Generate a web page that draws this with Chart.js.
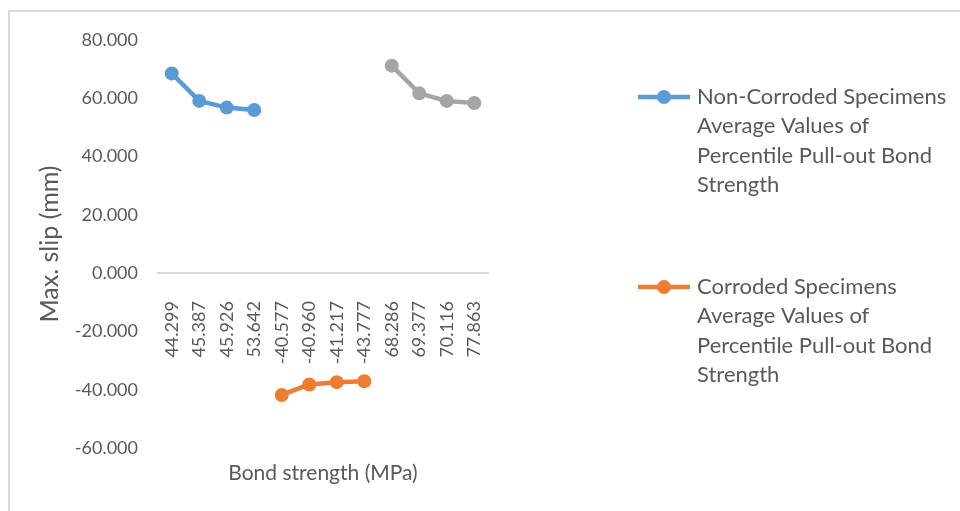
<!DOCTYPE html>
<html>
<head>
<meta charset="utf-8">
<script src="https://cdn.jsdelivr.net/npm/chart.js@4.4.1/dist/chart.umd.min.js"></script>
<style>
  html, body { margin: 0; padding: 0; background: #fff; }
  #wrap { width: 960px; height: 511px; position: relative; }
</style>
</head>
<body>
<div id="wrap"><canvas id="slipChart" width="960" height="511"></canvas></div>
<script>
// bond strength categories (MPa) along the x axis
const categories = ['44.299', '45.387', '45.926', '53.642', '-40.577', '-40.960', '-41.217', '-43.777', '68.286', '69.377', '70.116', '77.863'];

// max. slip (mm) per group
const nonCorroded = [68.5, 59.1, 56.8, 56.0, null, null, null, null, null, null, null, null];
const corroded = [null, null, null, null, -41.8, -38.2, -37.4, -37.1, null, null, null, null];
const thirdGroup = [null, null, null, null, null, null, null, null, 71.2, 61.7, 59.1, 58.4];

const yTicks = [-60, -40, -20, 0, 20, 40, 60, 80];

const textColor = '#595959';
const fontFamily = 'Lato, "Open Sans", sans-serif';

Chart.defaults.font.family = fontFamily;
Chart.defaults.color = textColor;

function series(label, data, color, inLegend) {
  return {
    label,
    data,
    borderColor: color,
    backgroundColor: color,
    borderWidth: 4.5,
    pointRadius: 7,
    pointHoverRadius: 7,
    pointBorderWidth: 0,
    spanGaps: false,
    inLegend
  };
}

// outer frame of the chart object
const framePlugin = {
  id: 'frame',
  beforeDraw(chart) {
    const c = chart.ctx;
    c.save();
    c.strokeStyle = '#d9d9d9';
    c.lineWidth = 2;
    c.strokeRect(9, 11, chart.width + 10, chart.height + 10);
    c.restore();
  }
};

// legend on the right with wrapped labels
const wrapLegend = {
  id: 'wrapLegend',
  afterDraw(chart) {
    const c = chart.ctx;
    const x0 = 638, lineLen = 52, textX = 697, maxW = 258, lh = 29.4;
    const tops = [97, 287];
    c.save();
    c.font = '22px ' + fontFamily;
    c.textBaseline = 'middle';
    let i = 0;
    chart.data.datasets.forEach(ds => {
      if (!ds.inLegend) return;
      const y = tops[i++];
      c.strokeStyle = ds.borderColor;
      c.lineWidth = 4.5;
      c.beginPath();
      c.moveTo(x0, y);
      c.lineTo(x0 + lineLen, y);
      c.stroke();
      c.fillStyle = ds.backgroundColor;
      c.beginPath();
      c.arc(x0 + lineLen / 2, y, 7, 0, Math.PI * 2);
      c.fill();
      // greedy word wrap
      const lines = [];
      let cur = '';
      ds.label.split(' ').forEach(w => {
        const test = cur ? cur + ' ' + w : w;
        if (c.measureText(test).width > maxW && cur) {
          lines.push(cur);
          cur = w;
        } else {
          cur = test;
        }
      });
      if (cur) lines.push(cur);
      c.fillStyle = textColor;
      lines.forEach((ln, k) => c.fillText(ln, textX, y + k * lh));
    });
    c.restore();
  }
};

const ctx = document.getElementById('slipChart').getContext('2d');

new Chart(ctx, {
  type: 'line',
  data: {
    labels: categories,
    datasets: [
      series('Non-Corroded Specimens Average Values of Percentile Pull-out Bond Strength', nonCorroded, '#5B9BD5', true),
      series('Corroded Specimens Average Values of Percentile Pull-out Bond Strength', corroded, '#ED7D31', true),
      series('Series3', thirdGroup, '#A5A5A5', false)
    ]
  },
  options: {
    responsive: false,
    animation: false,
    layout: { padding: { left: 10, top: 40, right: 472, bottom: 10 } },
    plugins: {
      legend: { display: false },
      tooltip: { enabled: true }
    },
    scales: {
      x: {
        position: { y: 0 },
        offset: true,
        grid: { display: false, drawTicks: false },
        border: { display: true, color: '#d9d9d9', width: 2 },
        ticks: {
          autoSkip: false,
          minRotation: 90,
          maxRotation: 90,
          padding: 28,
          font: { size: 18 },
          color: textColor
        }
      },
      xTitle: {
        type: 'category',
        labels: categories,
        position: 'bottom',
        grid: { display: false, drawTicks: false },
        border: { display: false },
        ticks: { display: false },
        title: {
          display: true,
          text: 'Bond strength (MPa)',
          font: { size: 21 },
          color: textColor,
          padding: { top: 0, bottom: 15 }
        },
        afterFit(scale) { scale.height = 53; }
      },
      y: {
        min: -60,
        max: 80,
        afterBuildTicks(scale) { scale.ticks = yTicks.map(v => ({ value: v })); },
        grid: { display: false, drawTicks: false },
        border: { display: false },
        ticks: {
          padding: 20,
          font: { size: 18 },
          color: textColor,
          callback: v => Number(v).toFixed(3)
        },
        title: {
          display: true,
          text: 'Max. slip (mm)',
          font: { size: 25 },
          color: textColor,
          padding: { top: 25, bottom: 0 }
        },
        afterFit(scale) { scale.width = 148; }
      }
    }
  },
  plugins: [framePlugin, wrapLegend]
});
</script>
</body>
</html>
